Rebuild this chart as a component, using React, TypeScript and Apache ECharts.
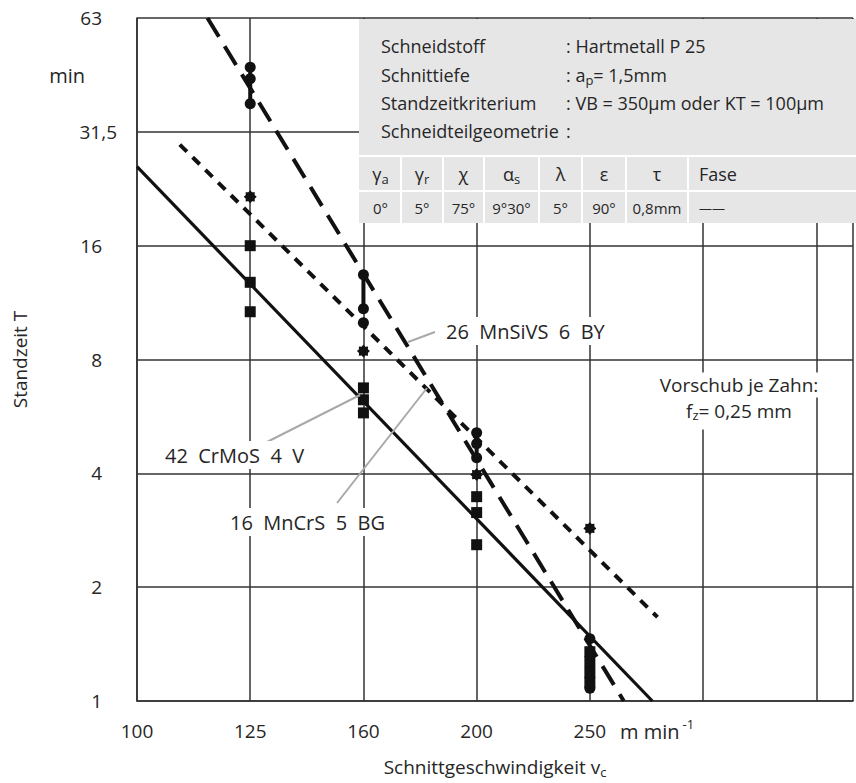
import React, { useEffect, useRef } from "react";
import * as echarts from "echarts";

// ---- axis ticks (nominal preferred-number series) ----
const xTicks = [100, 125, 160, 200, 250, 315, 400, 500];
const xTickLabels = ["100", "125", "160", "200", "250", "", ""];
const yTicks = [1, 2, 4, 8, 16, 31.5, 63];
const yTickLabels = ["1", "2", "4", "8", "16", "31,5", "63"];

// ---- measured points ----
const circleV = [125, 125, 125, 160, 160, 160, 200, 200, 200, 250, 250];
const circleT = [46.7, 43.5, 37.4, 13.4, 10.9, 10.0, 5.12, 4.79, 4.4, 1.46, 1.08];
const starV = [125, 160, 200, 250];
const starT = [21.4, 8.42, 3.97, 2.86];
const squareV = [125, 125, 125, 160, 160, 160, 200, 200, 200, 250, 250, 250, 250];
const squareT = [16.0, 12.8, 10.7, 6.73, 6.26, 5.78, 3.47, 3.15, 2.59, 1.35, 1.27, 1.19, 1.12];

// thick scatter bands
const bandV = [125, 160, 200, 250];
const bandTop = [46.7, 13.4, 5.12, 1.35];
const bandBottom = [37.4, 10.9, 4.4, 1.12];

// ---- fitted lines (v, T) ----
const solidV = [100, 284];
const solidT = [25.6, 1];
const shortDashV = [108.8, 287];
const shortDashT = [29.2, 1.666];
const longDashV = [114.9, 267.9];
const longDashT = [63, 1];

// ---- texts ----
const infoLabels = ["Schneidstoff", "Schnittiefe", "Standzeitkriterium", "Schneidteilgeometrie"];
const infoValues = [": Hartmetall P 25", ": a{sub|p}= 1,5mm", ": VB = 350µm oder KT = 100µm", ":"];
const tableHead = ["γ{sub|a}", "γ{sub|r}", "χ", "α{sub|s}", "λ", "ε", "τ", "Fase"];
const tableVals = ["0°", "5°", "75°", "9°30°", "5°", "90°", "0,8mm", "——"];
const steelLabels = ["26  MnSiVS  6  BY", "42  CrMoS  4  V", "16  MnCrS  5  BG"];

const FONT = "'Open Sans', 'Noto Sans', sans-serif";
const TXT = "#262626";
const GRID = "#333333";
const INK = "#111111";

function pos(v: number, ticks: number[]) {
  let i = 0;
  while (i < ticks.length - 2 && v > ticks[i + 1]) i++;
  return i + Math.log(v / ticks[i]) / Math.log(ticks[i + 1] / ticks[i]);
}
const px = (v: number) => pos(v, xTicks);
const py = (t: number) => pos(t, yTicks);
const pts = (vs: number[], ts: number[]) => vs.map((v, i) => [px(v), py(ts[i])]);

function starPath() {
  const p: string[] = [];
  for (let k = 0; k < 16; k++) {
    const a = (Math.PI * 2 * k) / 16 - Math.PI / 2;
    const r = k % 2 === 0 ? 1 : 0.74;
    p.push(`${(50 + 50 * r * Math.cos(a)).toFixed(2)} ${(50 + 50 * r * Math.sin(a)).toFixed(2)}`);
  }
  return "path://M" + p.join(" L") + " Z";
}

export default function App() {
  const ref = useRef<HTMLDivElement>(null);
  useEffect(() => {
    if (!ref.current) return;
    const chart = echarts.init(ref.current, undefined, { renderer: "svg" });
    const plotLeft = 137, plotRight = 859, unit = 685 / 6;
    const X_MAX = (plotRight - plotLeft) / unit;

    const subRich = (fs: number) => ({
      sub: { fontSize: fs, fontFamily: FONT, color: TXT, padding: [Math.round(fs * 0.7), 0, 0, 0] },
    });

    const graphics: any[] = [];
    // info box
    graphics.push({ type: "rect", z: 20, shape: { x: 359, y: 19, width: 500, height: 204 }, style: { fill: "#e6e6e7" } });
    graphics.push({ type: "rect", z: 21, shape: { x: 359, y: 155, width: 500, height: 2 }, style: { fill: "#fff" } });
    graphics.push({ type: "rect", z: 21, shape: { x: 359, y: 190, width: 500, height: 2 }, style: { fill: "#fff" } });
    const colSep = [400, 442, 483, 538, 581, 625, 687];
    colSep.forEach((x) =>
      graphics.push({ type: "rect", z: 21, shape: { x, y: 157, width: 2, height: 66 }, style: { fill: "#fff" } })
    );
    const rowY = [46, 75, 103, 131];
    infoLabels.forEach((t, i) =>
      graphics.push({
        type: "text", z: 22, x: 381, y: rowY[i],
        style: { text: t, fontSize: 18, fontFamily: FONT, fill: TXT, align: "left", verticalAlign: "middle" },
      })
    );
    infoValues.forEach((t, i) =>
      graphics.push({
        type: "text", z: 22, x: 566, y: rowY[i],
        style: { text: t, fontSize: 18, fontFamily: FONT, fill: TXT, align: "left", verticalAlign: "middle", rich: subRich(13) },
      })
    );
    const cellL = [361, 402, 444, 485, 540, 583, 627, 689];
    const cellR = [400, 442, 483, 538, 581, 625, 687, 856];
    tableHead.forEach((t, i) => {
      const last = i === tableHead.length - 1;
      graphics.push({
        type: "text", z: 22, x: last ? 699 : (cellL[i] + cellR[i]) / 2, y: 174,
        style: { text: t, fontSize: 18, fontFamily: FONT, fill: TXT, align: last ? "left" : "center", verticalAlign: "middle", rich: subRich(13) },
      });
    });
    tableVals.forEach((t, i) => {
      const last = i === tableVals.length - 1;
      graphics.push({
        type: "text", z: 22, x: last ? 699 : (cellL[i] + cellR[i]) / 2, y: 208,
        style: { text: t, fontSize: last ? 13 : 15, fontFamily: FONT, fill: TXT, align: last ? "left" : "center", verticalAlign: "middle" },
      });
    });

    // leader lines + steel labels
    const leaders = [
      [435, 332, 408, 342],
      [265, 443, 360, 395],
      [337, 503, 427, 388],
    ];
    leaders.forEach(([x1, y1, x2, y2]) =>
      graphics.push({ type: "line", z: 12, shape: { x1, y1, x2, y2 }, style: { stroke: "#a9a9a9", lineWidth: 2 } })
    );
    const labelPos = [
      [443, 331],
      [162, 455],
      [227, 522],
    ];
    steelLabels.forEach((t, i) =>
      graphics.push({
        type: "text", z: 13, x: labelPos[i][0], y: labelPos[i][1],
        style: { text: t, fontSize: 20, fontFamily: FONT, fill: TXT, align: "left", verticalAlign: "middle", backgroundColor: "#fff", padding: [4, 3] },
      })
    );
    // feed note
    graphics.push({
      type: "text", z: 13, x: 739, y: 385,
      style: { text: "Vorschub je Zahn:", fontSize: 19, fontFamily: FONT, fill: TXT, align: "center", verticalAlign: "middle", backgroundColor: "#fff", padding: [3, 4] },
    });
    graphics.push({
      type: "text", z: 13, x: 739, y: 413,
      style: { text: "f{sub|z}= 0,25 mm", fontSize: 19, fontFamily: FONT, fill: TXT, align: "center", verticalAlign: "middle", backgroundColor: "#fff", padding: [3, 4, 8, 4], rich: subRich(13) },
    });
    // units
    graphics.push({
      type: "text", z: 13, x: 85, y: 75,
      style: { text: "min", fontSize: 20, fontFamily: FONT, fill: TXT, align: "right", verticalAlign: "middle" },
    });
    graphics.push({
      type: "text", z: 13, x: 620, y: 731,
      style: {
        text: "m min{sup|-1}", fontSize: 20, fontFamily: FONT, fill: TXT, align: "left", verticalAlign: "middle",
        rich: { sup: { fontSize: 13, fontFamily: FONT, color: TXT, padding: [0, 0, 14, 3] } },
      },
    });

    const lineSeries = (data: number[][], type: any, width: number) => ({
      type: "line", data, symbol: "none", z: 3, silent: true,
      lineStyle: { color: INK, width, type, cap: "butt", opacity: 1 },
    });

    const scatter = (data: number[][], symbol: string, size: number) => ({
      type: "scatter", data, symbol, symbolSize: size, z: 5, silent: true,
      itemStyle: { color: INK, opacity: 1 },
    });

    const series: any[] = [
      lineSeries(pts(solidV, solidT), "solid", 3.2),
      lineSeries(pts(shortDashV, shortDashT), [10, 8], 4),
      lineSeries(pts(longDashV, longDashT), [22, 11], 4),
      ...bandV.map((v, i) => ({
        type: "line", data: [[px(v), py(bandTop[i])], [px(v), py(bandBottom[i])]], symbol: "none", z: 4, silent: true,
        lineStyle: { color: INK, width: 4, opacity: 1 },
      })),
      scatter(pts(circleV, circleT), "circle", 11),
      scatter(pts(squareV, squareT), "rect", 11),
      scatter(pts(starV, starT), starPath(), 13),
    ];

    chart.setOption({
      animation: false,
      backgroundColor: "#ffffff",
      grid: { left: plotLeft, top: 18, right: 856 - plotRight, bottom: 80 },
      xAxis: {
        type: "value", min: 0, max: X_MAX, interval: 1,
        axisLine: { show: true, lineStyle: { color: GRID, width: 1.6 } },
        axisTick: { show: false },
        splitLine: { show: true, lineStyle: { color: GRID, width: 1.5 } },
        axisLabel: {
          fontSize: 19, fontFamily: FONT, color: TXT, margin: 20,
          formatter: (v: number) => (Math.abs(v - Math.round(v)) < 1e-6 ? xTickLabels[Math.round(v)] ?? "" : ""),
        },
        name: "Schnittgeschwindigkeit v{sub|c}",
        nameLocation: "middle", nameGap: 55,
        nameTextStyle: { fontSize: 19, fontFamily: FONT, color: TXT, rich: subRich(13) },
      },
      yAxis: {
        type: "value", min: 0, max: 6, interval: 1,
        axisLine: { show: true, lineStyle: { color: GRID, width: 1.6 } },
        axisTick: { show: false },
        splitLine: { show: true, lineStyle: { color: GRID, width: 1.5 } },
        axisLabel: {
          fontSize: 19, fontFamily: FONT, color: TXT, margin: 20, align: "right",
          formatter: (v: number) => {
            const i = Math.round(v);
            if (Math.abs(v - i) > 1e-6) return "";
            const t = yTickLabels[i];
            return t.includes(",") ? `{n|${t}}` : `{n|${t}}{s| }`;
          },
          rich: { n: { fontSize: 19, fontFamily: FONT, color: TXT }, s: { width: 15, fontSize: 19 } },
        },
        name: "Standzeit T", nameLocation: "middle", nameRotate: 90, nameGap: 108,
        nameTextStyle: { fontSize: 19, fontFamily: FONT, color: TXT },
      },
      graphic: graphics,
      series,
    });
    return () => chart.dispose();
  }, []);
  return <div ref={ref} style={{ position: "absolute", left: 0, top: 0, width: 856, height: 783 }} />;
}
